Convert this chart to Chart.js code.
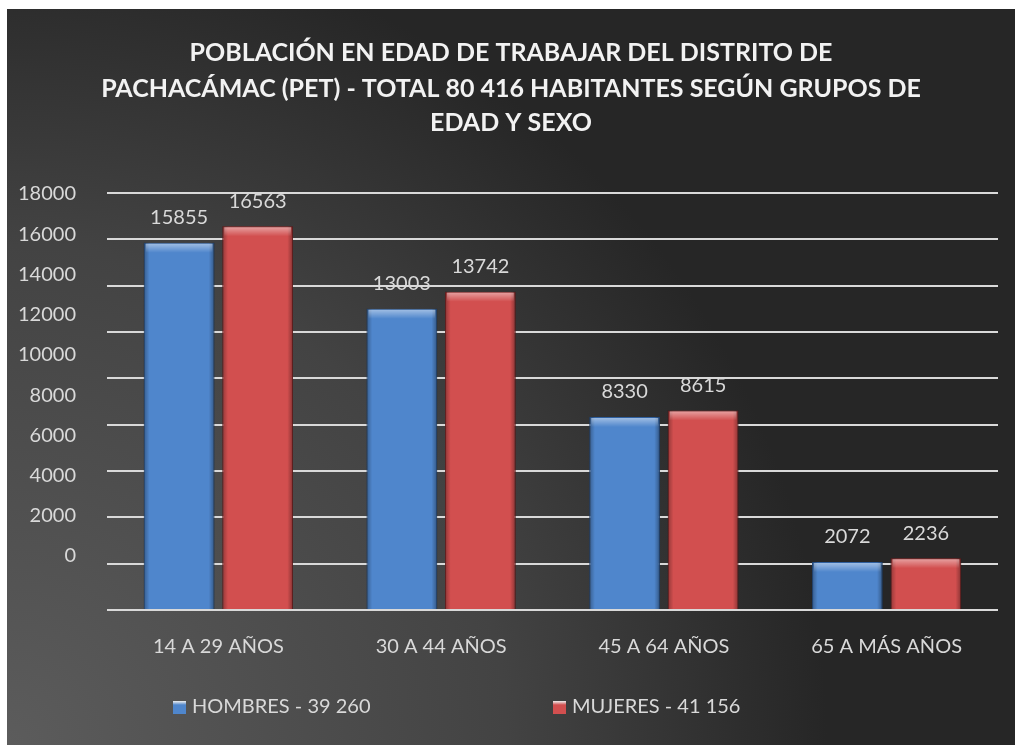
<!DOCTYPE html>
<html>
<head>
<meta charset="utf-8">
<script src="https://cdn.jsdelivr.net/npm/chart.js@4.4.1/dist/chart.umd.min.js"></script>
<style>
  html, body { margin: 0; background: #fff; }
  #wrap { position: absolute; left: 7px; top: 9px; width: 1008px; height: 736px; }
</style>
</head>
<body>
<div id="wrap"><canvas id="chart"></canvas></div>
<script>
// chart data
const categories = ['14 A 29 AÑOS', '30 A 44 AÑOS', '45 A 64 AÑOS', '65 A MÁS AÑOS'];
const hombres = [15855, 13003, 8330, 2072];
const mujeres = [16563, 13742, 8615, 2236];
const seriesNames = ['HOMBRES - 39 260', 'MUJERES - 41 156'];
const yTickValues = [0, 2000, 4000, 6000, 8000, 10000, 12000, 14000, 16000, 18000];
const titleLines = [
  'POBLACIÓN EN EDAD DE TRABAJAR DEL DISTRITO DE',
  'PACHACÁMAC (PET) - TOTAL 80 416 HABITANTES SEGÚN GRUPOS DE',
  'EDAD Y SEXO'
];

const FONT = 'Lato, "Open Sans", sans-serif';
const TEXT = '#d9d9d9';
const BLUE = '#4f86cc';
const RED = '#d24f4f';

// dark background with a lighter glow in the lower left
const backgroundPlugin = {
  id: 'bg',
  beforeDraw(chart) {
    const { ctx, width, height } = chart;
    const g = ctx.createRadialGradient(0, height, 0, 0, height, 1000);
    g.addColorStop(0, '#5c5c5c');
    g.addColorStop(0.5, '#434343');
    g.addColorStop(0.82, '#262626');
    g.addColorStop(1, '#262626');
    ctx.save();
    ctx.fillStyle = g;
    ctx.fillRect(0, 0, width, height);
    ctx.restore();
  }
};

// bevel look + value labels on the bars
const barExtras = {
  id: 'barExtras',
  afterDatasetsDraw(chart) {
    const ctx = chart.ctx;
    chart.data.datasets.forEach((ds, di) => {
      const meta = chart.getDatasetMeta(di);
      meta.data.forEach((bar, i) => {
        const left = bar.x - bar.width / 2;
        const right = bar.x + bar.width / 2;
        const top = bar.y;
        const h = bar.base - bar.y;
        ctx.save();
        // side shading
        const side = ctx.createLinearGradient(left, 0, right, 0);
        side.addColorStop(0, 'rgba(0,0,0,0.3)');
        side.addColorStop(0.08, 'rgba(0,0,0,0)');
        side.addColorStop(0.92, 'rgba(0,0,0,0)');
        side.addColorStop(1, 'rgba(0,0,0,0.35)');
        ctx.fillStyle = side;
        ctx.fillRect(left, top, bar.width, h);
        // top highlight
        const tg = ctx.createLinearGradient(0, top, 0, top + 10);
        tg.addColorStop(0, 'rgba(255,255,255,0.5)');
        tg.addColorStop(1, 'rgba(255,255,255,0)');
        ctx.fillStyle = tg;
        ctx.fillRect(left + 2, top + 1, bar.width - 4, 10);
        // label
        ctx.fillStyle = TEXT;
        ctx.font = '20px ' + FONT;
        ctx.textAlign = 'center';
        ctx.textBaseline = 'middle';
        ctx.fillText(String(ds.data[i]), bar.x, top - 25);
        ctx.restore();
      });
    });
  }
};

// title and legend drawn by hand to follow the original layout
const textPlugin = {
  id: 'texts',
  afterDraw(chart) {
    const ctx = chart.ctx;
    ctx.save();
    ctx.fillStyle = '#f2f2f2';
    ctx.font = 'bold 25px ' + FONT;
    ctx.textAlign = 'center';
    ctx.textBaseline = 'middle';
    const lineY = [44, 80, 114];
    titleLines.forEach((t, i) => ctx.fillText(t, chart.width / 2, lineY[i]));

    const boxX = [166, 546];
    ctx.font = '20px ' + FONT;
    ctx.textAlign = 'left';
    chart.data.datasets.forEach((ds, i) => {
      const y = 698;
      const g = ctx.createLinearGradient(0, y - 6, 0, y + 7);
      g.addColorStop(0, 'rgba(255,255,255,0.9)');
      g.addColorStop(0.3, ds.backgroundColor);
      g.addColorStop(1, ds.backgroundColor);
      ctx.fillStyle = g;
      ctx.fillRect(boxX[i], y - 6, 13, 13);
      ctx.fillStyle = TEXT;
      ctx.fillText(ds.label, boxX[i] + 19, y);
    });
    ctx.restore();
  }
};

new Chart(document.getElementById('chart'), {
  type: 'bar',
  data: {
    labels: categories,
    datasets: [
      { label: seriesNames[0], data: hombres, yAxisID: 'y', backgroundColor: BLUE, borderColor: '#2f5f9e', borderWidth: 1 },
      { label: seriesNames[1], data: mujeres, yAxisID: 'y', backgroundColor: RED, borderColor: '#8c2a2a', borderWidth: 1 }
    ]
  },
  options: {
    responsive: true,
    maintainAspectRatio: false,
    animation: false,
    categoryPercentage: 0.705,
    barPercentage: 0.9,
    layout: { padding: { top: 184, right: 17, left: 0, bottom: 0 } },
    plugins: {
      legend: { display: false },
      title: { display: false },
      tooltip: { enabled: false }
    },
    scales: {
      x: {
        grid: { display: false },
        border: { display: false },
        ticks: { color: TEXT, font: { family: FONT, size: 20 }, padding: 17 },
        afterFit(scale) { scale.height = 135; }
      },
      y: {
        position: 'left',
        min: 0,
        max: 18000,
        ticks: { display: false, stepSize: 2000 },
        grid: { color: '#d9d9d9', lineWidth: 2, drawTicks: false },
        border: { display: false },
        afterFit(scale) { scale.width = 0; }
      },
      // the tick labels in the original sit a bit off the grid lines, so they live on their own axis
      yLabels: {
        position: 'left',
        min: -2685,
        max: 18050,
        grid: { display: false },
        border: { display: false },
        ticks: {
          color: TEXT,
          font: { family: FONT, size: 20 },
          padding: 23,
          callback: (v) => String(v)
        },
        afterBuildTicks(scale) { scale.ticks = yTickValues.map(v => ({ value: v })); },
        afterFit(scale) { scale.width = 100; }
      }
    }
  },
  plugins: [backgroundPlugin, barExtras, textPlugin]
});
</script>
</body>
</html>
